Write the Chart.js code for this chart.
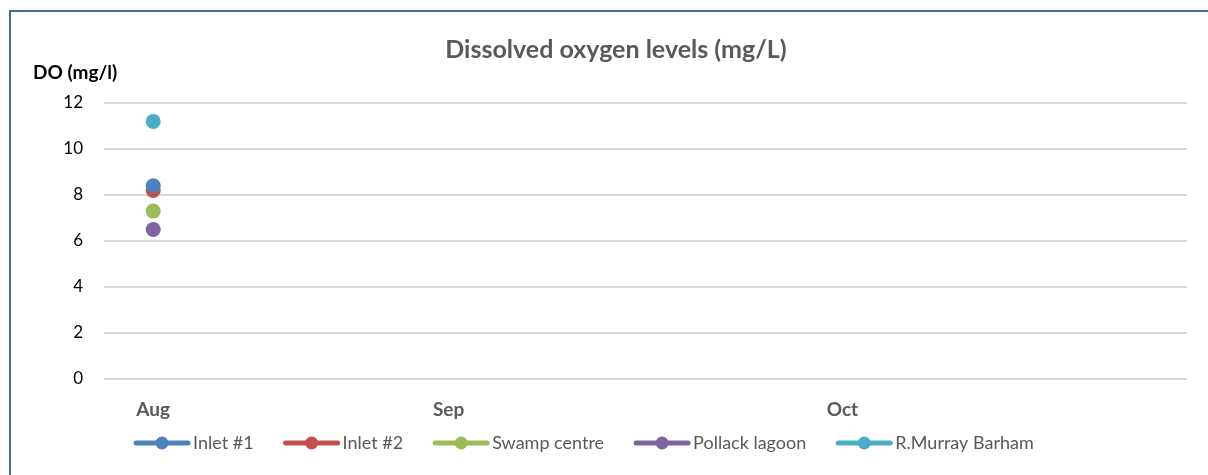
<!DOCTYPE html>
<html>
<head>
<meta charset="utf-8">
<script src="https://cdn.jsdelivr.net/npm/chart.js@4/dist/chart.umd.min.js"></script>
<style>
  html, body { margin: 0; padding: 0; background: #fff; overflow: hidden; }
  canvas { display: block; }
</style>
</head>
<body>
<canvas id="chart" width="1208" height="475"></canvas>
<script>
// months on the category axis (only some are labelled)
const months = ["Aug", "", "", "Sep", "", "", "", "Oct", "", "", ""];
const yTicks = [0, 2, 4, 6, 8, 10, 12];

const inlet1 = [8.4, null, null, null, null, null, null, null, null, null, null];
const inlet2 = [8.2, null, null, null, null, null, null, null, null, null, null];
const swampCentre = [7.3, null, null, null, null, null, null, null, null, null, null];
const pollackLagoon = [6.5, null, null, null, null, null, null, null, null, null, null];
const murrayBarham = [11.2, null, null, null, null, null, null, null, null, null, null];

const seriesNames = ["Inlet #1", "Inlet #2", "Swamp centre", "Pollack lagoon", "R.Murray Barham"];
const colors = ["#4f81bd", "#c0504d", "#9bbb59", "#8064a2", "#4bacc6"];

const FONT = "Lato, 'Open Sans', sans-serif";

function makeSet(i, data) {
  return {
    label: seriesNames[i],
    data: data,
    borderColor: colors[i],
    backgroundColor: colors[i],
    borderWidth: 4,
    pointRadius: 7.5,
    pointHoverRadius: 7.5,
    pointBorderWidth: 0
  };
}

// frame, title, y-axis caption and the legend drawn in Excel style
const decor = {
  id: "decor",
  beforeDraw(chart) {
    const ctx = chart.ctx;
    ctx.save();
    ctx.strokeStyle = "#44689f";
    ctx.lineWidth = 2;
    ctx.beginPath();
    ctx.moveTo(10, chart.height);
    ctx.lineTo(10, 11);
    ctx.lineTo(chart.width, 11);
    ctx.stroke();
    ctx.restore();
  },
  afterDraw(chart) {
    const ctx = chart.ctx;
    ctx.save();
    ctx.textBaseline = "middle";

    ctx.fillStyle = "#595959";
    ctx.font = "bold 25px " + FONT;
    ctx.textAlign = "center";
    ctx.fillText("Dissolved oxygen levels (mg/L)", 616, 50);

    ctx.fillStyle = "#000";
    ctx.font = "bold 19px " + FONT;
    ctx.textAlign = "left";
    ctx.fillText("DO (mg/l)", 33, 73);

    // legend
    ctx.font = "18px " + FONT;
    let x = 134;
    const y = 443;
    chart.data.datasets.forEach(ds => {
      ctx.strokeStyle = ds.borderColor;
      ctx.lineWidth = 5;
      ctx.lineCap = "round";
      ctx.beginPath();
      ctx.moveTo(x + 2, y);
      ctx.lineTo(x + 54, y);
      ctx.stroke();
      ctx.fillStyle = ds.borderColor;
      ctx.beginPath();
      ctx.arc(x + 28, y, 6.5, 0, Math.PI * 2);
      ctx.fill();
      ctx.fillStyle = "#595959";
      ctx.fillText(ds.label, x + 59, y);
      x += 59 + ctx.measureText(ds.label).width + 30;
    });
    ctx.restore();
  }
};

new Chart(document.getElementById("chart"), {
  type: "line",
  data: {
    labels: months,
    datasets: [
      makeSet(0, inlet1),
      makeSet(1, inlet2),
      makeSet(2, swampCentre),
      makeSet(3, pollackLagoon),
      makeSet(4, murrayBarham)
    ]
  },
  options: {
    responsive: false,
    animation: false,
    layout: { padding: { top: 103, right: 21, left: 0, bottom: 0 } },
    plugins: {
      legend: { display: false },
      title: { display: false },
      tooltip: { enabled: false }
    },
    scales: {
      x: {
        offset: true,
        grid: { display: false },
        border: { display: false },
        afterFit(scale) { scale.height = 96; },
        ticks: {
          autoSkip: false,
          maxRotation: 0,
          padding: 11,
          color: "#595959",
          font: { family: FONT, size: 19, weight: "bold" }
        }
      },
      y: {
        min: 0,
        max: 12,
        afterFit(scale) { scale.width = 104; },
        afterBuildTicks(scale) { scale.ticks = yTicks.map(v => ({ value: v })); },
        border: { display: false },
        grid: { color: "#d9d9d9", lineWidth: 2, drawTicks: false },
        ticks: {
          padding: 21,
          color: "#000",
          font: { family: FONT, size: 17 }
        }
      }
    }
  },
  plugins: [decor]
});
</script>
</body>
</html>
